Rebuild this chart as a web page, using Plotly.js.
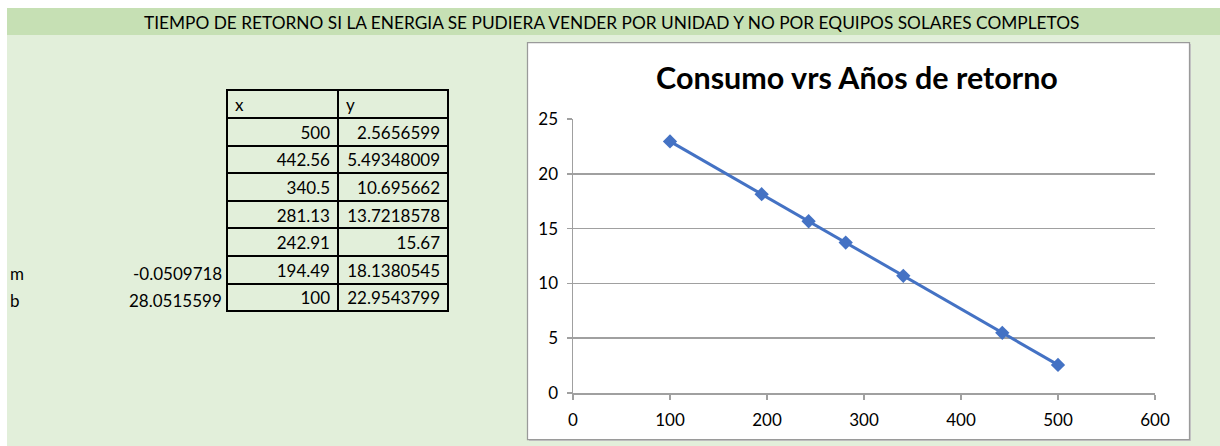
<!DOCTYPE html>
<html>
<head>
<meta charset="utf-8">
<script src="https://cdn.plot.ly/plotly-3.0.1.min.js"></script>
<style>
html,body{margin:0;padding:0;background:#fff;}
#chart{width:1220px;height:446px;}
</style>
</head>
<body>
<div id="chart"></div>
<script>
// ---- data ----
const headerText = "TIEMPO DE RETORNO SI LA ENERGIA SE PUDIERA VENDER POR UNIDAD Y NO POR EQUIPOS SOLARES COMPLETOS";
const chartTitle = "Consumo vrs Años de retorno";
const tableHeader = ["x", "y"];
const consumo = [500, 442.56, 340.5, 281.13, 242.91, 194.49, 100];
const anosRetorno = [2.5656599, 5.49348009, 10.695662, 13.7218578, 15.67, 18.1380545, 22.9543799];
const paramLabels = ["m", "b"];
const paramValues = [-0.0509718, 28.0515599];
const xTickVals = [0, 100, 200, 300, 400, 500, 600];
const yTickVals = [0, 5, 10, 15, 20, 25];

// ---- layout helpers (pixel -> paper) ----
const W = 1220, H = 446;
const px = v => v / W;
const py = v => 1 - v / H;

const FONT = "Lato, 'Open Sans', sans-serif";
const LIGHT = "#E2EFDA";
const BAND = "#C6E0B4";
const GRID = "#A0A0A0";

const tableTrace = {
  type: "table",
  domain: {x: [px(227), px(448)], y: [py(314), py(90)]},
  columnwidth: [111, 110],
  header: {
    values: tableHeader,
    align: "left",
    height: 28,
    line: {color: "#000", width: 2},
    fill: {color: LIGHT},
    font: {family: FONT, size: 17, color: "#000"}
  },
  cells: {
    values: [consumo.map(String), anosRetorno.map(String)],
    align: "right",
    height: 27.6,
    line: {color: "#000", width: 2},
    fill: {color: LIGHT},
    font: {family: FONT, size: 17, color: "#000"}
  },
  hoverinfo: "skip"
};

const lineTrace = {
  type: "scatter",
  mode: "lines+markers",
  x: consumo,
  y: anosRetorno,
  xaxis: "x",
  yaxis: "y",
  line: {color: "#4472C4", width: 3},
  marker: {symbol: "diamond", size: 11, color: "#4472C4"},
  showlegend: false,
  hoverinfo: "x+y"
};

const annotations = [];
paramLabels.forEach((lab, i) => {
  const yc = 273 + i * 27.6;
  annotations.push({
    xref: "paper", yref: "paper", x: px(8), y: py(yc),
    xanchor: "left", yanchor: "middle", showarrow: false,
    text: lab, font: {family: FONT, size: 17, color: "#000"}
  });
  annotations.push({
    xref: "paper", yref: "paper", x: px(224), y: py(yc),
    xanchor: "right", yanchor: "middle", showarrow: false,
    text: String(paramValues[i]), font: {family: FONT, size: 17, color: "#000"}
  });
});
annotations.push({
  xref: "paper", yref: "paper", x: px(611), y: py(22),
  xanchor: "center", yanchor: "middle", showarrow: false,
  text: headerText, font: {family: FONT, size: 17.3, color: "#000"}
});

const shapes = [
  {type: "rect", xref: "paper", yref: "paper", x0: px(7), x1: 1, y0: 0, y1: py(35),
   fillcolor: LIGHT, line: {width: 0}, layer: "below"},
  {type: "rect", xref: "paper", yref: "paper", x0: px(7), x1: 1, y0: py(35), y1: py(8),
   fillcolor: BAND, line: {width: 0}, layer: "below"},
  {type: "rect", xref: "paper", yref: "paper", x0: px(529), x1: px(1191), y0: py(441), y1: py(44),
   fillcolor: "#C8C8C8", line: {width: 0}, layer: "below"},
  {type: "rect", xref: "paper", yref: "paper", x0: px(527.5), x1: px(1189.5), y0: py(439.5), y1: py(42.5),
   fillcolor: "#FFFFFF", line: {color: "#9A9A9A", width: 1.25}, layer: "below"}
];

const layout = {
  width: W, height: H,
  margin: {l: 0, r: 0, t: 0, b: 0},
  paper_bgcolor: "#FFFFFF",
  plot_bgcolor: "rgba(0,0,0,0)",
  showlegend: false,
  font: {family: FONT, color: "#000"},
  title: {
    text: "<b>" + chartTitle + "</b>",
    x: px(857), xanchor: "center", xref: "paper",
    y: py(78), yanchor: "middle", yref: "container",
    font: {family: FONT, size: 30.5, color: "#000"}
  },
  xaxis: {
    domain: [px(573), px(1155)],
    range: [0, 600],
    tickvals: xTickVals,
    ticks: "outside", ticklen: 5, tickwidth: 1.5, tickcolor: GRID,
    ticklabelstandoff: 6,
    showline: true, linecolor: GRID, linewidth: 1.5,
    showgrid: false, zeroline: false,
    tickfont: {family: FONT, size: 17, color: "#000"},
    fixedrange: true
  },
  yaxis: {
    domain: [py(393), py(119)],
    range: [0, 25],
    tickvals: yTickVals,
    ticks: "outside", ticklen: 5, tickwidth: 1.5, tickcolor: GRID,
    ticklabelstandoff: 5,
    showline: true, linecolor: GRID, linewidth: 1.5,
    showgrid: true, gridcolor: GRID, gridwidth: 1.5,
    zeroline: false,
    tickfont: {family: FONT, size: 17, color: "#000"},
    fixedrange: true
  },
  shapes: shapes,
  annotations: annotations
};

Plotly.newPlot("chart", [tableTrace, lineTrace], layout, {displayModeBar: false, staticPlot: true});
</script>
</body>
</html>
